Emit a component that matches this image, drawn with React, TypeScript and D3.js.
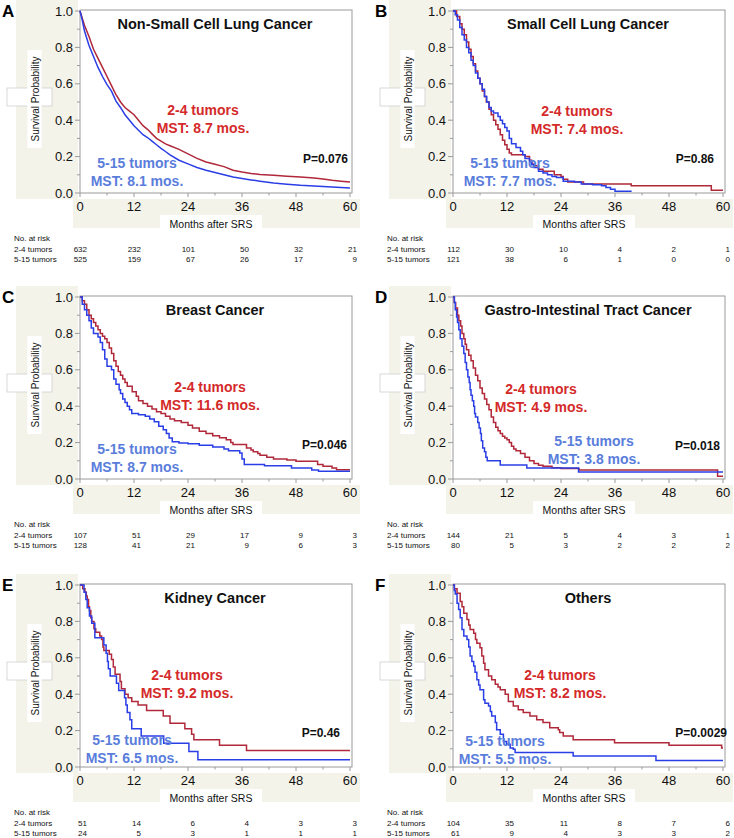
import React from 'react';
import * as d3 from 'd3';

type Pt = [number, number];

// ---------- data ----------
const monthTicks = [0, 12, 24, 36, 48, 60];
const monthMinor = [6, 18, 30, 42, 54];
const survTicks = [0, 0.2, 0.4, 0.6, 0.8, 1.0];
const survMinor = [0.1, 0.3, 0.5, 0.7, 0.9];
const riskRowLabels = ['2-4 tumors', '5-15 tumors'];
const panelLetters = ['A', 'B', 'C', 'D', 'E', 'F'];
const panelTitles = [
  'Non-Small Cell Lung Cancer',
  'Small Cell Lung Cancer',
  'Breast Cancer',
  'Gastro-Intestinal Tract Cancer',
  'Kidney Cancer',
  'Others',
];
const groupLabels = ['2-4 tumors', '5-15 tumors'];
const mst24 = ['MST: 8.7 mos.', 'MST: 7.4 mos.', 'MST: 11.6 mos.', 'MST: 4.9 mos.', 'MST: 9.2 mos.', 'MST: 8.2 mos.'];
const mst515 = ['MST: 8.1 mos.', 'MST: 7.7 mos.', 'MST: 8.7 mos.', 'MST: 3.8 mos.', 'MST: 6.5 mos.', 'MST: 5.5 mos.'];
const pValues = ['P=0.076', 'P=0.86', 'P=0.046', 'P=0.018', 'P=0.46', 'P=0.0029'];

const risk24 = [
  [632, 232, 101, 50, 32, 21],
  [112, 30, 10, 4, 2, 1],
  [107, 51, 29, 17, 9, 3],
  [144, 21, 5, 4, 3, 1],
  [51, 14, 6, 4, 3, 3],
  [104, 35, 11, 8, 7, 6],
];
const risk515 = [
  [525, 159, 67, 26, 17, 9],
  [121, 38, 6, 1, 0, 0],
  [128, 41, 21, 9, 6, 3],
  [80, 5, 3, 2, 2, 2],
  [24, 5, 3, 1, 1, 1],
  [61, 9, 4, 3, 3, 2],
];

const nsclc24: Pt[] = [[0,1],[0.5,0.96],[1,0.92],[2,0.86],[3,0.79],[4,0.74],[5,0.69],[6,0.64],[7,0.59],[8,0.54],[9,0.5],[10,0.47],[11,0.45],[12,0.43],[13,0.40],[14,0.37],[15,0.35],[16,0.325],[17,0.30],[18,0.285],[19,0.27],[20,0.26],[22,0.24],[24,0.215],[26,0.19],[28,0.17],[30,0.158],[32,0.145],[34,0.125],[36,0.115],[38,0.107],[40,0.102],[43,0.097],[46,0.092],[49,0.088],[52,0.082],[54,0.077],[56,0.07],[58,0.065],[60,0.06]];
const nsclc515: Pt[] = [[0,1],[0.5,0.95],[1,0.89],[2,0.81],[3,0.75],[4,0.69],[5,0.64],[6,0.595],[7,0.56],[8,0.505],[9,0.47],[10,0.43],[11,0.40],[12,0.37],[13,0.345],[14,0.32],[15,0.305],[16,0.285],[17,0.265],[18,0.245],[19,0.228],[20,0.21],[22,0.18],[24,0.16],[26,0.14],[28,0.125],[30,0.113],[32,0.10],[34,0.088],[36,0.08],[38,0.072],[40,0.065],[43,0.055],[46,0.048],[49,0.042],[53,0.037],[56,0.033],[60,0.028]];

const sclc24: Pt[] = [[0,1],[0.8,0.97],[1.5,0.93],[2,0.90],[2.5,0.87],[3,0.83],[3.5,0.79],[4,0.75],[4.5,0.71],[5,0.67],[5.5,0.63],[6,0.60],[6.5,0.56],[7,0.53],[7.4,0.5],[8,0.46],[8.5,0.43],[9,0.40],[9.5,0.375],[10,0.35],[10.5,0.32],[11,0.29],[11.5,0.265],[12,0.24],[12.5,0.22],[13,0.21],[16,0.20],[17,0.18],[17.5,0.16],[18,0.15],[19,0.13],[20,0.12],[22.5,0.10],[24,0.09],[24.5,0.075],[25.5,0.06],[29,0.05],[39.6,0.04],[57.4,0.015],[60,0.015]];
const sclc515: Pt[] = [[0,1],[0.5,0.98],[1,0.95],[1.5,0.91],[2,0.87],[2.5,0.84],[3,0.80],[3.5,0.77],[4,0.73],[4.5,0.70],[5,0.66],[5.5,0.63],[6,0.60],[6.5,0.57],[7,0.53],[7.5,0.50],[8,0.47],[8.5,0.45],[9,0.44],[10,0.42],[10.5,0.40],[11,0.38],[11.5,0.36],[12,0.34],[12.5,0.30],[13,0.27],[14,0.25],[15,0.23],[15.5,0.21],[16,0.19],[17,0.17],[17.5,0.155],[18,0.14],[19,0.12],[20,0.11],[21,0.10],[22,0.09],[23,0.085],[24.5,0.065],[27,0.06],[28.5,0.05],[31,0.045],[33,0.04],[34,0.03],[35,0.02],[36,0.01],[39.7,0.01]];

const breast24: Pt[] = [[0,1],[0.5,0.98],[1,0.96],[1.5,0.93],[2,0.90],[2.5,0.88],[3,0.86],[3.5,0.84],[4,0.82],[4.5,0.80],[5,0.785],[5.5,0.77],[6,0.75],[6.5,0.72],[7,0.69],[7.5,0.65],[8,0.62],[8.5,0.59],[9,0.57],[9.5,0.55],[10,0.53],[10.5,0.51],[11.6,0.48],[12.5,0.455],[13,0.43],[14,0.415],[15,0.40],[16,0.385],[17,0.37],[18,0.36],[19,0.345],[20,0.33],[21,0.32],[22.5,0.31],[24,0.295],[25,0.28],[26.5,0.262],[28,0.25],[29.5,0.238],[31,0.227],[32.5,0.216],[33.5,0.20],[34,0.19],[37,0.17],[38,0.16],[38.5,0.15],[39.5,0.14],[40,0.13],[41.5,0.12],[43,0.11],[46,0.105],[48,0.097],[52.8,0.08],[54,0.07],[56,0.06],[57,0.051],[60,0.051]];
const breast515: Pt[] = [[0,1],[0.5,0.96],[1,0.93],[1.5,0.90],[2,0.87],[2.5,0.83],[3,0.80],[4,0.78],[4.5,0.75],[5,0.71],[5.5,0.66],[6,0.62],[7,0.60],[7.5,0.55],[8,0.52],[8.7,0.49],[9,0.47],[9.5,0.44],[10,0.42],[10.5,0.40],[11,0.38],[11.5,0.36],[13,0.353],[14.5,0.345],[15.5,0.33],[16.5,0.315],[17.5,0.29],[18.5,0.27],[19.2,0.25],[19.8,0.225],[20.5,0.205],[22,0.198],[24,0.193],[26.5,0.185],[29.5,0.176],[32,0.165],[33,0.155],[35.5,0.143],[36,0.11],[36.5,0.08],[41,0.073],[47,0.06],[51.5,0.05],[53,0.042],[60,0.042]];

const gi24: Pt[] = [[0,1],[0.3,0.97],[0.6,0.94],[1,0.90],[1.3,0.87],[1.7,0.84],[2,0.80],[2.4,0.77],[2.7,0.74],[3,0.71],[3.5,0.68],[4,0.65],[4.5,0.61],[5,0.57],[5.5,0.54],[6,0.50],[6.5,0.47],[7,0.44],[7.5,0.41],[8,0.38],[8.5,0.34],[9,0.31],[9.5,0.285],[10,0.265],[10.5,0.25],[11,0.235],[11.5,0.225],[12,0.215],[12.5,0.20],[13,0.18],[13.5,0.165],[14,0.155],[15,0.14],[16,0.12],[17,0.10],[18,0.085],[19,0.075],[20,0.07],[22,0.062],[24,0.058],[28,0.05],[58.8,0.015],[60,0.015]];
const gi515: Pt[] = [[0,1],[0.3,0.97],[0.5,0.93],[0.8,0.89],[1,0.86],[1.3,0.82],[1.6,0.77],[2,0.73],[2.4,0.69],[2.7,0.64],[3,0.60],[3.3,0.56],[3.6,0.53],[3.8,0.49],[4,0.46],[4.3,0.43],[4.6,0.40],[4.8,0.36],[5,0.34],[5.5,0.31],[5.8,0.28],[6.1,0.25],[6.3,0.21],[6.6,0.17],[7,0.15],[7.3,0.12],[7.6,0.10],[10.5,0.077],[16.4,0.061],[27.9,0.039],[60,0.039]];

const kidney24: Pt[] = [[0,1],[0.6,0.98],[1.1,0.96],[1.4,0.94],[1.6,0.92],[1.9,0.88],[2.1,0.86],[2.4,0.82],[2.6,0.80],[3.1,0.76],[3.5,0.74],[4.4,0.72],[4.8,0.70],[5.1,0.66],[5.3,0.64],[6.5,0.62],[7.0,0.59],[7.4,0.55],[7.8,0.51],[8.9,0.47],[9.2,0.43],[10.0,0.40],[10.7,0.38],[11.5,0.36],[12.9,0.34],[14.8,0.31],[18.5,0.28],[20,0.24],[23.3,0.21],[24.8,0.18],[25.3,0.15],[31,0.12],[37,0.09],[60,0.09]];
const kidney515: Pt[] = [[0,1],[0.9,0.96],[1.3,0.92],[1.6,0.875],[2.1,0.83],[2.6,0.79],[3.3,0.71],[5.3,0.67],[5.8,0.625],[6.1,0.58],[6.3,0.54],[6.7,0.50],[8.1,0.46],[8.6,0.42],[9.9,0.38],[10.2,0.34],[10.5,0.30],[11.1,0.26],[11.5,0.21],[13.6,0.17],[18.6,0.13],[24.2,0.085],[26.2,0.04],[60,0.04]];

const others24: Pt[] = [[0,1],[0.3,0.98],[0.9,0.955],[1.6,0.91],[2.0,0.88],[2.4,0.845],[3.1,0.81],[3.5,0.78],[3.8,0.755],[4.6,0.735],[5.0,0.70],[5.3,0.68],[6.0,0.655],[6.4,0.61],[6.8,0.57],[7.1,0.535],[7.9,0.50],[8.6,0.48],[9.4,0.455],[10,0.44],[10.5,0.425],[11.6,0.40],[12.3,0.36],[13.4,0.335],[14.5,0.315],[15.6,0.30],[17.1,0.28],[18.6,0.26],[20,0.245],[21.5,0.215],[23.4,0.205],[23.7,0.19],[24.5,0.17],[26.7,0.15],[35.9,0.133],[48,0.12],[59.7,0.105],[60,0.105]];
const others515: Pt[] = [[0,1],[0.3,0.97],[0.5,0.95],[0.9,0.90],[1.25,0.865],[1.6,0.82],[2.0,0.755],[2.4,0.72],[3.1,0.70],[3.5,0.66],[3.8,0.61],[4.2,0.58],[4.6,0.555],[4.9,0.52],[5.3,0.48],[5.7,0.45],[6.0,0.425],[6.8,0.37],[7.1,0.35],[7.9,0.335],[8.3,0.305],[8.6,0.28],[9.4,0.245],[9.7,0.205],[10.5,0.18],[11.2,0.14],[11.9,0.125],[12.7,0.105],[13.4,0.097],[13.8,0.08],[26.7,0.06],[45.1,0.036],[60,0.036]];

const curves24 = [nsclc24, sclc24, breast24, gi24, kidney24, others24];
const curves515 = [nsclc515, sclc515, breast515, gi515, kidney515, others515];

// ---------- layout ----------
const panelOffsets: Pt[] = [[0, 0], [373, 0], [0, 286], [373, 286], [0, 574], [373, 574]];
const redLabelPos: Pt[] = [[203, 110], [204, 111], [210, 101], [168, 103], [187, 101], [187, 101]];
const blueLabelPos: Pt[] = [[137, 163], [137, 163], [137, 163], [221, 155], [132, 166], [132, 167]];
const pPos: Pt[] = [[348, 159], [341, 159], [347, 159], [347, 160], [340, 159], [354, 159]];
const smoothPanels = [true, false, false, false, false, false];

const W = 734;
const H = 838;
const FONT = "'Liberation Sans', Arial, sans-serif";
const BEIGE = '#f4f3ea';
const RED_LINE = '#b0283a';
const BLUE_LINE = '#2a3ee6';
const RED_TEXT = '#d42a2a';
const BLUE_TEXT = '#5a7ddc';
const AXIS = '#9a9a9a';

function Panel({ i }: { i: number }) {
  const [dx, dy] = panelOffsets[i];
  const x = d3.scaleLinear().domain([0, 60]).range([80, 350]);
  const y = d3.scaleLinear().domain([0, 1]).range([193, 11]);
  const line = d3
    .line<Pt>()
    .x((d) => x(d[0]))
    .y((d) => y(d[1]))
    .curve(smoothPanels[i] ? d3.curveLinear : d3.curveStepAfter);
  const red = redLabelPos[i];
  const blue = blueLabelPos[i];
  const p = pPos[i];
  return (
    <g transform={`translate(${dx},${dy})`} fontFamily={FONT}>
      {/* beige chrome */}
      <rect x={16} y={0} width={62} height={199} fill={BEIGE} />
      <rect x={73} y={199} width={287} height={29} fill={BEIGE} />
      <rect x={7} y={88} width={45} height={18} fill="#fff" stroke="#cfcfcf" strokeWidth={0.8} />
      <rect x={27.4} y={50} width={14.2} height={98} fill="#fff" />
      <rect x={160} y={215} width={102} height={14} fill="#fff" />
      {/* frame */}
      <rect x={80} y={10} width={272} height={183} fill="#fff" stroke={AXIS} strokeWidth={1} />
      {/* y ticks */}
      {survTicks.map((t) => (
        <g key={'ys' + t}>
          <line x1={75} x2={80} y1={y(t)} y2={y(t)} stroke={AXIS} />
          <text x={73} y={y(t)} dy="0.36em" textAnchor="end" fontSize={13} fill="#111">
            {t.toFixed(1)}
          </text>
        </g>
      ))}
      {survMinor.map((t) => (
        <line key={'ym' + t} x1={77} x2={80} y1={y(t)} y2={y(t)} stroke={AXIS} />
      ))}
      {/* x ticks */}
      {monthTicks.map((t) => (
        <g key={'xs' + t}>
          <line x1={x(t)} x2={x(t)} y1={193} y2={197} stroke={AXIS} />
          <text x={x(t)} y={211} textAnchor="middle" fontSize={13} fill="#111">
            {t}
          </text>
        </g>
      ))}
      {monthMinor.map((t) => (
        <line key={'xm' + t} x1={x(t)} x2={x(t)} y1={193} y2={195.5} stroke={AXIS} />
      ))}
      {/* axis titles */}
      <text transform="translate(38.5,99) rotate(-90)" textAnchor="middle" fontSize={10} fill="#111">
        Survival Probability
      </text>
      <text x={211} y={227.5} textAnchor="middle" fontSize={10.5} fill="#111">
        Months after SRS
      </text>
      {/* curves */}
      <path d={line(curves24[i]) || ''} fill="none" stroke={RED_LINE} strokeWidth={1.5} />
      <path d={line(curves515[i]) || ''} fill="none" stroke={BLUE_LINE} strokeWidth={1.5} />
      {/* title */}
      <text x={215} y={29} textAnchor="middle" fontSize={14.5} fontWeight={700} fill="#111">
        {panelTitles[i]}
      </text>
      {/* labels */}
      <g fontSize={14} fontWeight={700} textAnchor="middle">
        <text x={red[0]} y={red[1]} dy="0.36em" fill={RED_TEXT}>{groupLabels[0]}</text>
        <text x={red[0]} y={red[1] + 18} dy="0.36em" fill={RED_TEXT}>{mst24[i]}</text>
        <text x={blue[0]} y={blue[1]} dy="0.36em" fill={BLUE_TEXT}>{groupLabels[1]}</text>
        <text x={blue[0]} y={blue[1] + 18} dy="0.36em" fill={BLUE_TEXT}>{mst515[i]}</text>
      </g>
      <text x={p[0]} y={p[1]} dy="0.36em" textAnchor="end" fontSize={12} fontWeight={700} fill="#111">
        {pValues[i]}
      </text>
      {/* letter */}
      <text x={2} y={17} fontSize={17} fontWeight={700} fill="#000">
        {panelLetters[i]}
      </text>
      {/* at risk */}
      <g fontSize={8} fill="#111">
        <text x={14} y={241}>No. at risk</text>
        <text x={14} y={251.5}>{riskRowLabels[0]}</text>
        <text x={14} y={261.5}>{riskRowLabels[1]}</text>
        {monthTicks.map((t, k) => (
          <g key={'r' + t}>
            <text x={x(t) + 7} y={251.5} textAnchor="end">{risk24[i][k]}</text>
            <text x={x(t) + 7} y={261.5} textAnchor="end">{risk515[i][k]}</text>
          </g>
        ))}
      </g>
    </g>
  );
}

export default function App() {
  return (
    <svg
      width={W}
      height={H}
      viewBox={`0 0 ${W} ${H}`}
      style={{ position: 'absolute', left: 0, top: 0, background: '#fff' }}
    >
      <rect x={0} y={0} width={W} height={H} fill="#fff" />
      {panelLetters.map((_, i) => (
        <Panel key={i} i={i} />
      ))}
    </svg>
  );
}
